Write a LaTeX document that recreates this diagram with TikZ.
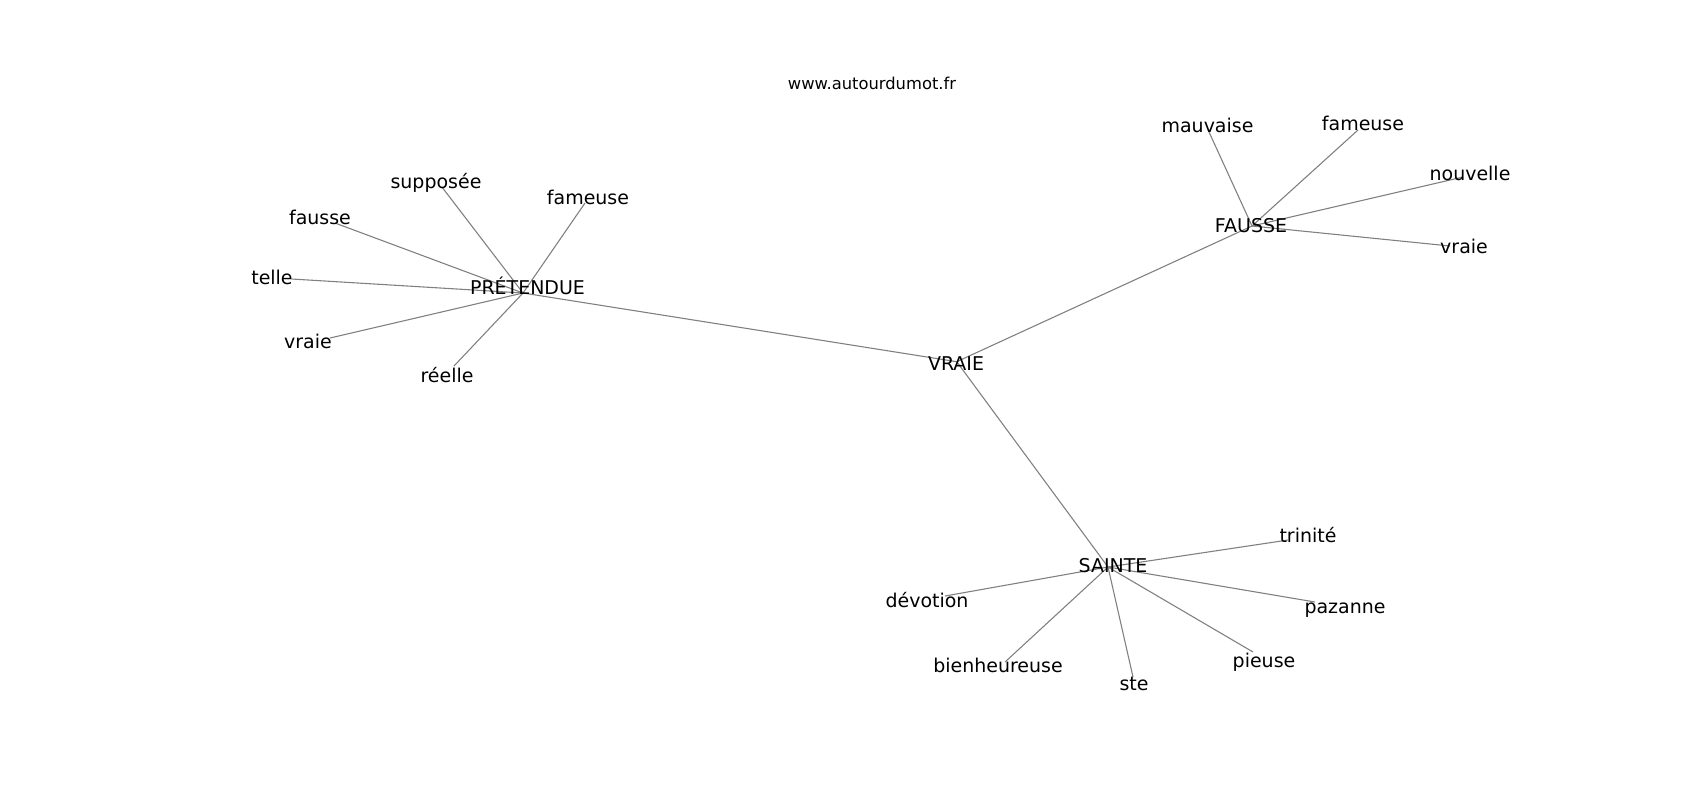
\documentclass[tikz,border=0pt]{standalone}
\usepackage{fontspec}
\setmainfont{DejaVu Sans}
\tikzset{
  mot/.style={inner sep=0pt, text height=0.73em, text depth=0pt, yshift=-0.3mm, font=\fontsize{10.8}{12}\selectfont},
  lien/.style={draw=black!50, line width=0.62pt},
  titre/.style={inner sep=0pt, text height=0.73em, text depth=0pt, font=\fontsize{9.3}{11}\selectfont}
}
\begin{document}
\begin{tikzpicture}[x=0.2mm,y=-0.2mm]
				\useasboundingbox (0,0) rectangle (1700,800);
				% sommets
				\coordinate (vraie) at (956.7,361.7);
				\coordinate (pretendue) at (523,293);
				\coordinate (fausse) at (1252,226);
				\coordinate (sainte) at (1108,567);
				\coordinate (p1) at (441.7,186.7);
				\coordinate (p2) at (585,203);
				\coordinate (p3) at (335,223);
				\coordinate (p4) at (291.7,279);
				\coordinate (p5) at (330,338);
				\coordinate (p6) at (454,366);
				\coordinate (f1) at (1209,132);
				\coordinate (f2) at (1358,130);
				\coordinate (f3) at (1463,177);
				\coordinate (f4) at (1450,246);
				\coordinate (s1) at (1288,540);
				\coordinate (s2) at (1315,602);
				\coordinate (s3) at (1253,652);
				\coordinate (s4) at (1133,677);
				\coordinate (s5) at (1005,662);
				\coordinate (s6) at (945,596);
				% aretes
				\draw[lien] (vraie) -- (pretendue);
				\draw[lien] (vraie) -- (fausse);
				\draw[lien] (vraie) -- (sainte);
				\foreach \n in {p1,p2,p3,p4,p5,p6}
					\draw[lien] (pretendue) -- (\n);
				\foreach \n in {f1,f2,f3,f4}
					\draw[lien] (fausse) -- (\n);
				\foreach \n in {s1,s2,s3,s4,s5,s6}
					\draw[lien] (sainte) -- (\n);
				% etiquettes
				\node[titre] (site) at (872,83) {www.autourdumot.fr};
				\node[mot] (tVraie) at (956,363) {VRAIE};
				\node[mot] (tPretendue) at (527.5,287) {PRÉTENDUE};
				\node[mot] (tFausse) at (1251,225) {FAUSSE};
				\node[mot] (tSainte) at (1113,565) {SAINTE};
				\node[mot] (tP1) at (436,181) {supposée};
				\node[mot] (tP2) at (588,197) {fameuse};
				\node[mot] (tP3) at (320,217) {fausse};
				\node[mot] (tP4) at (272,277) {telle};
				\node[mot] (tP5) at (308,341) {vraie};
				\node[mot] (tP6) at (447,375) {réelle};
				\node[mot] (tF1) at (1207.5,125) {mauvaise};
				\node[mot] (tF2) at (1363,123) {fameuse};
				\node[mot] (tF3) at (1470,173) {nouvelle};
				\node[mot] (tF4) at (1464,246) {vraie};
				\node[mot] (tS1) at (1308,535) {trinité};
				\node[mot] (tS2) at (1345,606) {pazanne};
				\node[mot] (tS3) at (1264,660) {pieuse};
				\node[mot] (tS4) at (1134,683) {ste};
				\node[mot] (tS5) at (998,665) {bienheureuse};
				\node[mot] (tS6) at (927,600) {dévotion};
			\end{tikzpicture}
\end{document}
